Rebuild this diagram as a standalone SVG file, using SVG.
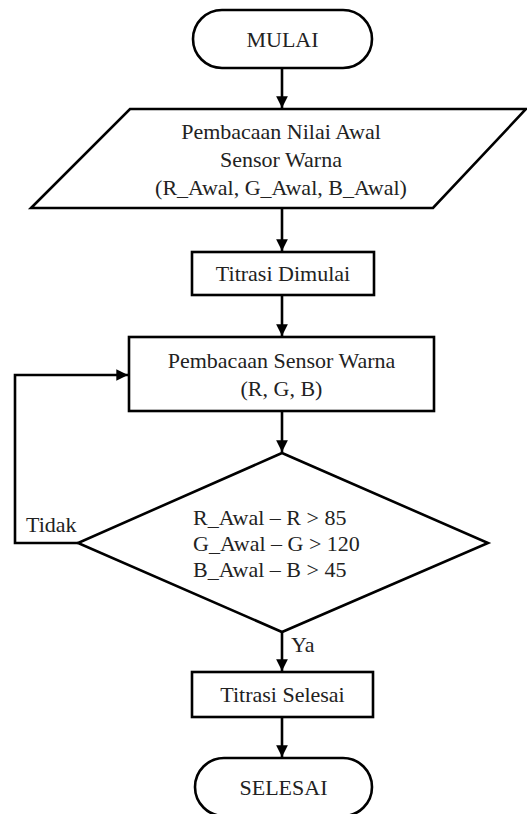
<svg xmlns="http://www.w3.org/2000/svg" width="527" height="814" viewBox="0 0 527 814" font-family="'Liberation Serif', 'Times New Roman', Times, 'DejaVu Serif', serif">
<defs>
<style>
.s{fill:#fff;stroke:#000;stroke-width:2.6}
.c{fill:none;stroke:#000;stroke-width:2.6}
text{font-family:'Liberation Serif','Times New Roman',Times,'DejaVu Serif',serif;font-size:22px;fill:#222}
.m{text-anchor:middle}
</style>
<marker id="a" viewBox="0 0 10 10" refX="10" refY="5" markerWidth="4.5" markerHeight="4.5" orient="auto" markerUnits="strokeWidth">
<path d="M0,0 L10,5 L0,10 z" fill="#000"/>
</marker>
</defs>
<rect width="527" height="814" fill="#fff"/>
<g id="connectors">
<path class="c" d="M282,68 V108" marker-end="url(#a)"/>
<path class="c" d="M282,208 V251" marker-end="url(#a)"/>
<path class="c" d="M282,295 V336" marker-end="url(#a)"/>
<path class="c" d="M282,411 V452" marker-end="url(#a)"/>
<path class="c" d="M78,543 H15 V375 H128" marker-end="url(#a)"/>
<path class="c" d="M282,632 V671" marker-end="url(#a)"/>
<path class="c" d="M282,717 V757" marker-end="url(#a)"/>
<text x="26" y="532">Tidak</text>
<text x="291" y="652">Ya</text>
</g>
<g id="mulai">
<rect class="s" x="193" y="10" width="179" height="58" rx="29"/>
<text class="m" x="282.5" y="47">MULAI</text>
</g>
<g id="input">
<polygon class="s" points="130,109 526,109 433,208 31,208"/>
<text class="m" x="281" y="139">Pembacaan Nilai Awal</text>
<text class="m" x="281" y="167">Sensor Warna</text>
<text class="m" x="281" y="195">(R_Awal, G_Awal, B_Awal)</text>
</g>
<g id="mulai-titrasi">
<rect class="s" x="192" y="252" width="182" height="43"/>
<text class="m" x="283" y="281">Titrasi Dimulai</text>
</g>
<g id="baca-sensor">
<rect class="s" x="129" y="337" width="305" height="74"/>
<text class="m" x="281.5" y="368">Pembacaan Sensor Warna</text>
<text class="m" x="281.5" y="396">(R, G, B)</text>
</g>
<g id="decision">
<polygon class="s" points="282,453 488,543 282,632 78,543"/>
<text x="193" y="525">R_Awal – R &gt; 85</text>
<text x="193" y="551">G_Awal – G &gt; 120</text>
<text x="193" y="577">B_Awal – B &gt; 45</text>
</g>
<g id="selesai-titrasi">
<rect class="s" x="192" y="672" width="181" height="45"/>
<text class="m" x="282.5" y="702">Titrasi Selesai</text>
</g>
<g id="selesai">
<rect class="s" x="195" y="758" width="177" height="58" rx="29"/>
<text class="m" x="283.5" y="795">SELESAI</text>
</g>
</svg>
